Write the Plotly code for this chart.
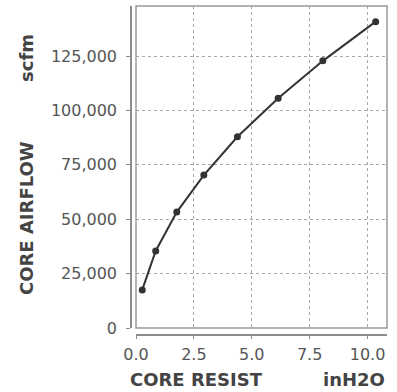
import plotly.graph_objects as go

# Data
core_resist = [0.27, 0.85, 1.76, 2.93, 4.38, 6.14, 8.07, 10.35]
core_airflow = [17500, 35400, 53300, 70300, 87900, 105600, 122800, 140800]
x_ticks = [0, 2.5, 5.0, 7.5, 10.0]
y_ticks = [0, 25000, 50000, 75000, 100000, 125000]

W, H = 397, 392
ML, MR, MT, MB = 120, 10, 6, 50
PW, PH = W - ML - MR, H - MT - MB

def px(x):
    return (x - ML) / PW

def py(y):
    return (H - MB - y) / PH

FONT = "DejaVu Sans"
GRID = "#a8a8a8"
AX = "#8c8c8c"
TXT = "#555555"
TTL = "#444444"

fig = go.Figure()
fig.add_trace(go.Scatter(
    x=core_resist, y=core_airflow, mode="lines+markers",
    line=dict(color="#333333", width=2),
    marker=dict(color="#333333", size=7),
    showlegend=False, hoverinfo="skip",
))

xd0 = px(136)
yd0 = py(328)

fig.update_layout(
    width=W, height=H,
    margin=dict(l=ML, r=MR, t=MT, b=MB, pad=0),
    paper_bgcolor="white", plot_bgcolor="white",
    font=dict(family=FONT, size=16, color=TXT),
    xaxis=dict(
        domain=[xd0, 1], range=[0, 10.84], anchor="free", position=py(334.5),
        tickvals=x_ticks, tickformat=".1f",
        showgrid=True, gridcolor=GRID, griddash="3px,3px", gridwidth=1,
        showline=True, linecolor=AX, linewidth=1.5,
        ticks="outside", ticklen=4, tickcolor=AX, tickwidth=1,
        zeroline=False, tickfont=dict(family=FONT, size=16, color=TXT),
        ticklabelstandoff=2,
    ),
    yaxis=dict(
        domain=[yd0, 1], range=[0, 148000], anchor="free", position=px(131),
        tickvals=y_ticks, tickformat=",d",
        showgrid=True, gridcolor=GRID, griddash="3px,3px", gridwidth=1,
        showline=True, linecolor=AX, linewidth=1.5,
        ticks="outside", ticklen=4, tickcolor=AX, tickwidth=1,
        zeroline=False, tickfont=dict(family=FONT, size=16, color=TXT),
        ticklabelstandoff=6,
    ),
    shapes=[dict(type="rect", xref="paper", yref="paper",
                 x0=xd0, x1=1, y0=yd0, y1=1,
                 line=dict(color="#999999", width=1.5), layer="above")],
    annotations=[
        dict(text="<b>CORE RESIST</b>", xref="paper", yref="paper",
             x=px(196), y=py(379), showarrow=False,
             font=dict(family=FONT, size=18, color=TTL),
             xanchor="center", yanchor="middle"),
        dict(text="<b>inH2O</b>", xref="paper", yref="paper",
             x=px(354), y=py(379), showarrow=False,
             font=dict(family=FONT, size=18, color=TTL),
             xanchor="center", yanchor="middle"),
        dict(text="<b>CORE AIRFLOW</b>", xref="paper", yref="paper",
             x=px(26), y=py(218), showarrow=False, textangle=-90,
             font=dict(family=FONT, size=18, color=TTL),
             xanchor="center", yanchor="middle"),
        dict(text="<b>scfm</b>", xref="paper", yref="paper",
             x=px(26), y=py(58), showarrow=False, textangle=-90,
             font=dict(family=FONT, size=18, color=TTL),
             xanchor="center", yanchor="middle"),
    ],
)

fig.write_html("out.html")
